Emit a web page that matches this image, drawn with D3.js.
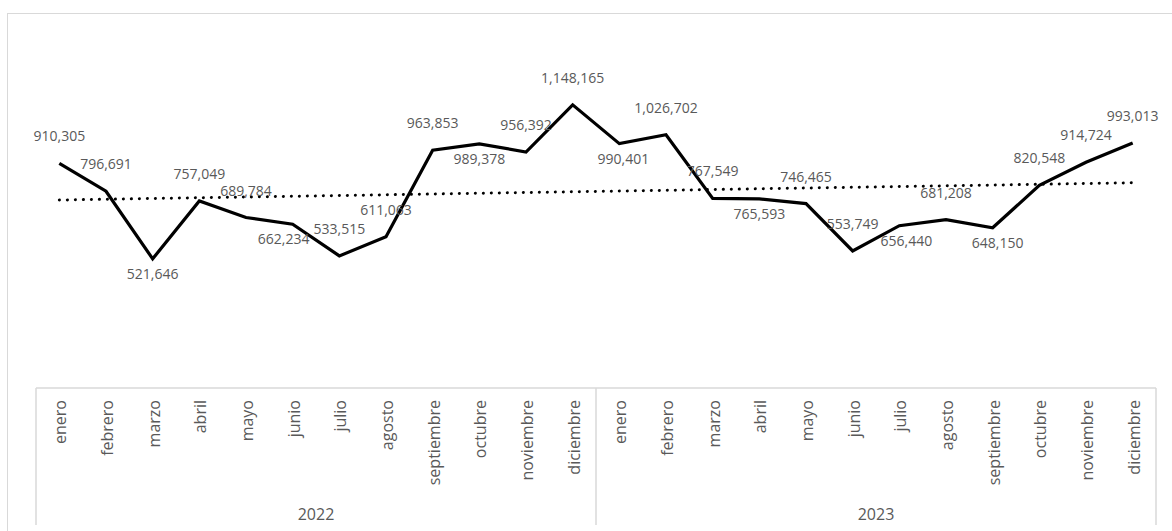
<!DOCTYPE html>
<html>
<head>
<meta charset="utf-8">
<script src="https://cdn.jsdelivr.net/npm/d3@7"></script>
<style>
  body { margin: 0; background: #fff; }
  svg text { font-family: "Open Sans", sans-serif; fill: #595959; }
</style>
</head>
<body>
<div id="wrapper"></div>
<script>
const years = ["2022", "2023"]
const months = ["enero", "febrero", "marzo", "abril", "mayo", "junio", "julio",
    "agosto", "septiembre", "octubre", "noviembre", "diciembre"]
const values2022 = [910305, 796691, 521646, 757049, 689784, 662234, 533515, 611063, 963853, 989378, 956392, 1148165]
const values2023 = [990401, 1026702, 767549, 765593, 746465, 553749, 656440, 681208, 648150, 820548, 914724, 993013]
// label above (a) or below (b) the point
const labelSide = ["a", "a", "b", "a", "a", "b", "a", "a", "a", "b", "a", "a",
    "b", "a", "a", "b", "a", "a", "b", "a", "b", "a", "a", "a"]
// small sideways nudges of some labels
const labelNudge = [0, 0, 0, 0, 0, -9, 0, 0, 0, 0, 0, 0,
    4, 0, 0, 0, 0, 0, 7, 0, 5, 0, 0, 0]

function drawChart() {
    const dataset = []
    years.forEach((yr, yi) => {
        const vals = yi === 0 ? values2022 : values2023
        months.forEach((m, mi) => dataset.push({ key: yr + "-" + m, year: yr, month: m, value: vals[mi] }))
    })

    const dimensions = {
        width: 1172,
        height: 531,
        plotLeft: 36,
        plotRight: 1156,
        plotTop: 43,
        plotBottom: 388
    }

    const svg = d3.select("#wrapper").append("svg")
        .attr("width", dimensions.width)
        .attr("height", dimensions.height)

    // chart border
    svg.append("rect")
        .attr("x", 7.5).attr("y", 13.5)
        .attr("width", 1200).attr("height", 600)
        .attr("fill", "none").attr("stroke", "#d9d9d9")

    const xScale = d3.scaleBand()
        .domain(dataset.map(d => d.key))
        .range([dimensions.plotLeft, dimensions.plotRight])

    const yScale = d3.scaleLinear()
        .domain([0, 1400000])
        .range([dimensions.plotBottom - 1, dimensions.plotTop])

    const xAccessor = d => xScale(d.key) + xScale.bandwidth() / 2
    const yAccessor = d => yScale(d.value)

    // category axis (two levels)
    const axis = svg.append("g").attr("stroke", "#d9d9d9").attr("stroke-width", 1.5)
    axis.append("line")
        .attr("x1", dimensions.plotLeft).attr("x2", dimensions.plotRight)
        .attr("y1", dimensions.plotBottom).attr("y2", dimensions.plotBottom)

    const yearScale = d3.scaleBand().domain(years).range([dimensions.plotLeft, dimensions.plotRight])
    const edges = years.map(y => yearScale(y)).concat([dimensions.plotRight])
    axis.selectAll(".sep").data(edges).join("line")
        .attr("x1", d => d).attr("x2", d => d)
        .attr("y1", dimensions.plotBottom).attr("y2", 525)

    svg.selectAll(".month-label").data(dataset).join("text")
        .attr("class", "month-label")
        .attr("transform", d => `translate(${xAccessor(d) + 7}, 400) rotate(-90)`)
        .attr("text-anchor", "end")
        .style("font-size", "16px")
        .text(d => d.month)

    svg.selectAll(".year-label").data(years).join("text")
        .attr("class", "year-label")
        .attr("x", d => yearScale(d) + yearScale.bandwidth() / 2)
        .attr("y", 520)
        .attr("text-anchor", "middle")
        .style("font-size", "16px")
        .text(d => d)

    // linear trend
    const idx = dataset.map((d, i) => i)
    const meanX = d3.mean(idx)
    const meanY = d3.mean(dataset, d => d.value)
    const slope = d3.sum(dataset, (d, i) => (i - meanX) * (d.value - meanY)) /
        d3.sum(idx, i => (i - meanX) * (i - meanX))
    const intercept = meanY - slope * meanX
    const trend = dataset.map((d, i) => ({ key: d.key, value: intercept + slope * i }))

    const lineGenerator = d3.line().x(xAccessor).y(yAccessor)

    svg.append("path")
        .attr("d", lineGenerator(trend))
        .attr("fill", "none")
        .attr("stroke", "#000")
        .attr("stroke-width", 3)
        .attr("stroke-linecap", "round")
        .attr("stroke-dasharray", "0.1 7.9")

    svg.append("path")
        .attr("d", lineGenerator(dataset))
        .attr("fill", "none")
        .attr("stroke", "#000")
        .attr("stroke-width", 3.2)
        .attr("stroke-linejoin", "miter")

    const fmt = d3.format(",")
    svg.selectAll(".value-label").data(dataset).join("text")
        .attr("class", "value-label")
        .attr("x", (d, i) => xAccessor(d) + labelNudge[i])
        .attr("y", (d, i) => labelSide[i] === "a" ? yAccessor(d) - 22 : yAccessor(d) + 20)
        .attr("text-anchor", "middle")
        .style("font-size", "14px")
        .text(d => fmt(d.value))
}

drawChart()
</script>
</body>
</html>
